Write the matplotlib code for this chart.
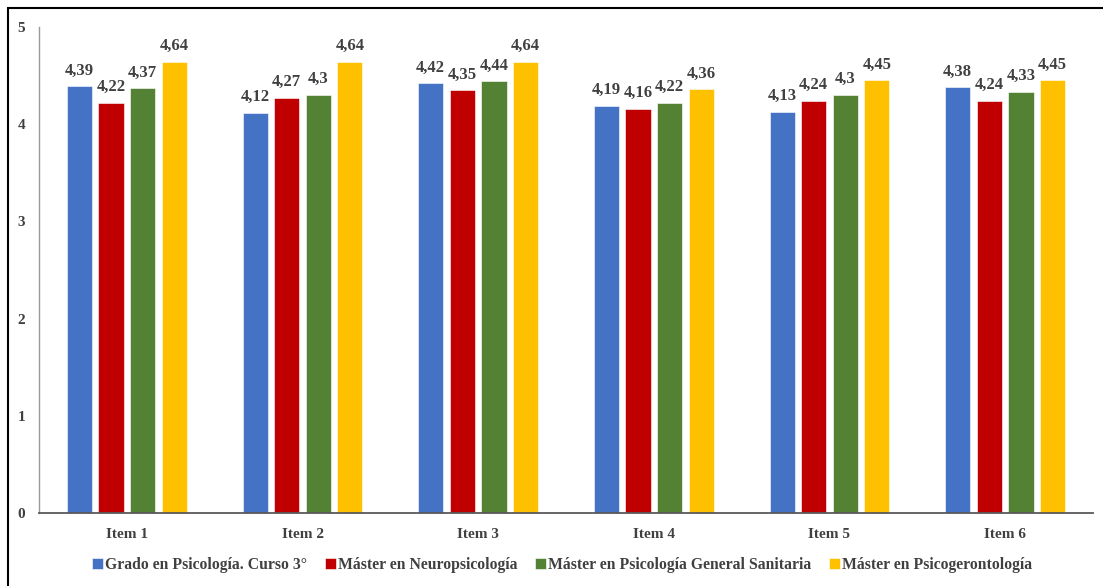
import matplotlib
matplotlib.use("Agg")
import matplotlib.pyplot as plt
import numpy as np
from matplotlib.patches import Rectangle

categories = ["Item 1", "Item 2", "Item 3", "Item 4", "Item 5", "Item 6"]
series_names = ["Grado en Psicología. Curso 3°", "Máster en Neuropsicología",
                "Máster en Psicología General Sanitaria", "Máster en Psicogerontología"]
grado = [4.39, 4.12, 4.42, 4.19, 4.13, 4.38]
neuro = [4.22, 4.27, 4.35, 4.16, 4.24, 4.24]
sanitaria = [4.37, 4.30, 4.44, 4.22, 4.30, 4.33]
geronto = [4.64, 4.64, 4.64, 4.36, 4.45, 4.45]
labels_grado = ["4,39", "4,12", "4,42", "4,19", "4,13", "4,38"]
labels_neuro = ["4,22", "4,27", "4,35", "4,16", "4,24", "4,24"]
labels_sanitaria = ["4,37", "4,3", "4,44", "4,22", "4,3", "4,33"]
labels_geronto = ["4,64", "4,64", "4,64", "4,36", "4,45", "4,45"]
yticks = [0, 1, 2, 3, 4, 5]

colors = ["#4472C4", "#C00000", "#548235", "#FFC000"]
series = [grado, neuro, sanitaria, geronto]
series_labels = [labels_grado, labels_neuro, labels_sanitaria, labels_geronto]

plt.rcParams['font.family'] = ['Liberation Serif', 'DejaVu Serif']
txt_color = "#404040"

fig = plt.figure(figsize=(11.03, 5.86), dpi=100)
ax = fig.add_axes([39/1103, 1-513/586, (1093-39)/1103, (513-27)/586])

x = np.arange(len(categories))
pitch = 0.18
width = 0.143
for i, (vals, labs) in enumerate(zip(series, series_labels)):
    pos = x + (i - 1.5) * pitch
    bars = ax.bar(pos, vals, width=width, color=colors[i], label=series_names[i],
                  edgecolor="white", linewidth=0.4, zorder=2)
    for b, lab in zip(bars, labs):
        ax.text(b.get_x() + b.get_width()/2, b.get_height() + 0.08, lab,
                ha="center", va="bottom", fontsize=12, fontweight="bold", color=txt_color)

ax.set_xlim(-0.5, len(categories) - 0.5)
ax.set_ylim(0, 5)
ax.set_yticks(yticks)
ax.set_yticklabels([str(t) for t in yticks], fontsize=11, fontweight="bold", color=txt_color)
ax.set_xticks(x)
ax.set_xticklabels(categories, fontsize=11, fontweight="bold", color=txt_color)
ax.tick_params(axis="both", length=0)
ax.tick_params(axis="y", pad=10)
ax.tick_params(axis="x", pad=11)
for s in ["top", "right"]:
    ax.spines[s].set_visible(False)
ax.spines["left"].set_color("#9a9a9a")
ax.spines["left"].set_linewidth(1.0)
ax.spines["bottom"].set_color("#595959")
ax.spines["bottom"].set_linewidth(1.3)

leg = fig.legend(loc="center", bbox_to_anchor=(562/1103, 1-565/586), ncol=4, frameon=False,
                 handlelength=0.7, handleheight=0.7, handletextpad=0.15, columnspacing=1.1,
                 prop={"family": ["Liberation Serif"], "weight": "bold", "size": 11.3})
for t in leg.get_texts():
    t.set_color(txt_color)

fig.patches.append(Rectangle((8/1103, -0.1), 1.2, 1 - 8/586 + 0.1, transform=fig.transFigure,
                             fill=False, edgecolor="black", linewidth=1.5))

fig.savefig("out.png", dpi=100)
